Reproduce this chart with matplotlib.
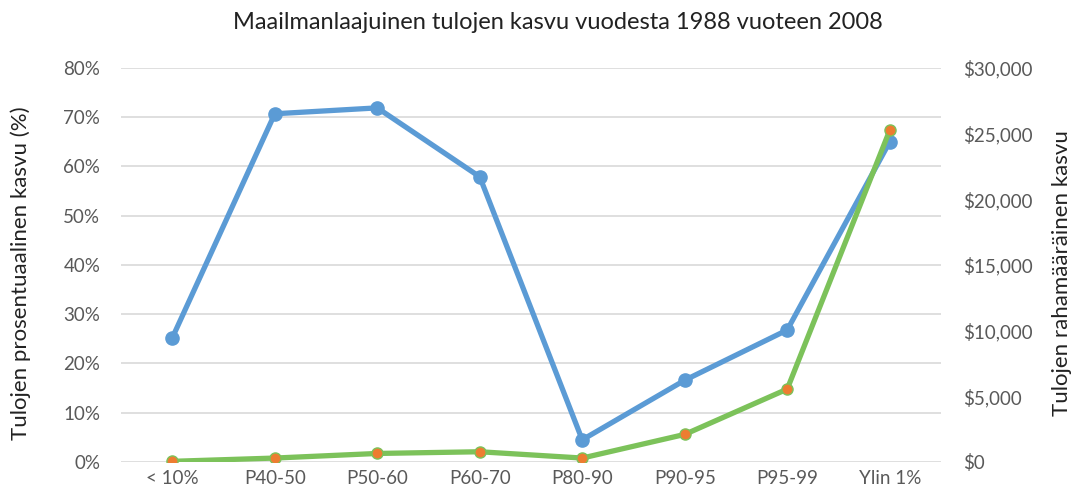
import matplotlib.pyplot as plt
from matplotlib.ticker import FuncFormatter

# Income groups and the two series
groups = ["< 10%", "P40-50", "P50-60", "P60-70", "P80-90", "P90-95", "P95-99", "Ylin 1%"]
pct_growth = [25.2, 70.7, 71.9, 57.9, 4.5, 16.6, 26.8, 65.0]
usd_growth = [50, 300, 650, 780, 300, 2100, 5550, 25250]

blue = "#5B9BD5"
green = "#7CC25A"
orange = "#ED7D31"
tick_gray = "#595959"

plt.rcParams['font.family'] = ['Lato', 'DejaVu Sans']

fig = plt.figure(figsize=(10.75, 4.98), dpi=100)
ax = fig.add_axes([0.1126, 0.0723, 0.7627, 0.7912])
ax2 = ax.twinx()

x = list(range(len(groups)))

ax.plot(x, pct_growth, color=blue, lw=3.8, marker="o", ms=9.5,
        solid_capstyle="round", zorder=3)
ax2.plot(x, usd_growth, color=green, lw=3.8, marker="o", ms=8,
         markerfacecolor=orange, markeredgecolor=green, markeredgewidth=1,
         solid_capstyle="round", zorder=3)

ax.set_xlim(-0.5, len(groups) - 0.5)
ax.set_ylim(0, 80)
ax.set_yticks(range(0, 81, 10))
ax.yaxis.set_major_formatter(FuncFormatter(lambda v, p: f"{int(v)}%"))
ax2.set_ylim(0, 30000)
ax2.set_yticks(range(0, 30001, 5000))
ax2.yaxis.set_major_formatter(FuncFormatter(lambda v, p: f"${int(v):,}"))

ax.set_xticks(x)
ax.set_xticklabels(groups)
ax.grid(axis="y", color="#D9D9D9", lw=1.2)
ax.set_axisbelow(True)

for a in (ax, ax2):
    for s in a.spines.values():
        s.set_visible(False)
    a.tick_params(length=0, labelsize=13.5, labelcolor=tick_gray)
ax.tick_params(axis="y", pad=15)
ax2.tick_params(axis="y", pad=16)
ax.tick_params(axis="x", pad=6)

# left series under the right one
ax.set_zorder(ax2.get_zorder() - 1)
ax.patch.set_visible(True)
ax2.patch.set_visible(False)

ax.set_ylabel("Tulojen prosentuaalinen kasvu (%)", fontsize=16, color="#222222")
ax2.set_ylabel("Tulojen rahamääräinen kasvu", fontsize=16, color="#222222")
ax.yaxis.set_label_coords(-0.110, 0.48)
ax2.yaxis.set_label_coords(1.135, 0.48)
fig.text(0.519, 0.955, "Maailmanlaajuinen tulojen kasvu vuodesta 1988 vuoteen 2008",
         fontsize=17, color="#222222", ha="center", va="center")

fig.savefig("out.png", dpi=100)
